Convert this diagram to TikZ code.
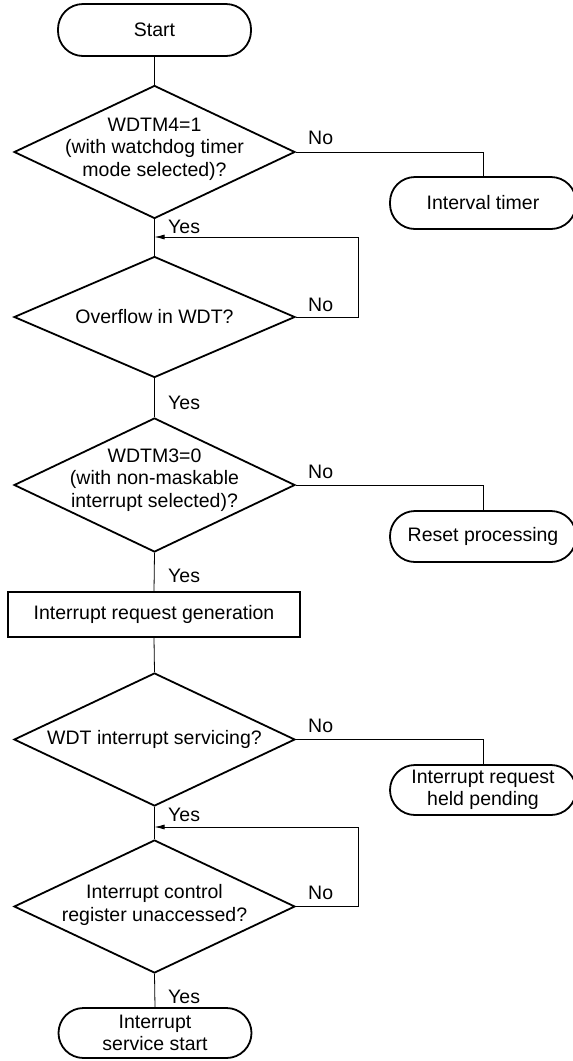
\documentclass[tikz,border=0pt]{standalone}
\usepackage{fontspec}
\setmainfont{Liberation Sans}
\usetikzlibrary{shapes.geometric,arrows.meta}
\begin{document}
\begin{tikzpicture}[x=1pt,y=-1pt,
  font=\fontsize{19.5}{22.5}\selectfont,
  shp/.style={draw=black,line width=1.8pt},
  term/.style={shp,rectangle,rounded corners=25pt,minimum width=193pt,minimum height=52pt,inner sep=0pt,align=center},
  dia/.style={shp,diamond,minimum width=281pt,minimum height=133pt,inner sep=0pt},
  procbox/.style={shp,rectangle,minimum width=292pt,minimum height=45pt,inner sep=0pt},
  txt/.style={align=center,inner sep=0pt},
  conn/.style={draw=black,line width=0.8pt},
  arr/.style={conn,-{Latex[length=10pt,width=5pt]}},
  lab/.style={anchor=west,inner sep=0pt},
]
\useasboundingbox (0,0) rectangle (573,1061);

% nodes
\node[term] (start) at (154.5,30) {Start};
\node[dia] (d1) at (154.5,152) {};
\node[txt] (d1t) at (154.5,149) {WDTM4=1\\(with watchdog timer\\mode selected)?};
\node[term,minimum width=186pt] (it) at (483,203) {Interval timer};

\node[dia,minimum height=121pt] (d2) at (154.5,317) {};
\node[txt] (d2t) at (154.5,317) {Overflow in WDT?};

\node[dia,minimum height=134pt] (d3) at (154.5,485) {};
\node[txt] (d3t) at (154.5,480) {WDTM3=0\\(with non-maskable\\interrupt selected)?};
\node[term,minimum width=186pt,minimum height=51pt] (rp) at (483,536.5) {Reset processing};

\node[procbox] (irg) at (154,614.5) {Interrupt request generation};

\node[dia] (d4) at (154.5,739.5) {};
\node[txt] (d4t) at (154.5,739.5) {WDT interrupt servicing?};
\node[term,minimum width=186pt,minimum height=50pt] (hp) at (483,790) {Interrupt request\\held pending};

\node[dia] (d5) at (154.5,906.5) {};
\node[txt] (d5t) at (154.5,905) {Interrupt control\\register unaccessed?};

\node[term,minimum height=50pt] (iss) at (155,1033) {Interrupt\\service start};

% junction coordinates
\coordinate (j1) at (154.5,237);
\coordinate (j2) at (154.5,827);
\coordinate (c1) at (358,237);
\coordinate (c2) at (358,827);

% connectors
\draw[conn] (start.south) -- (d1.north);
\draw[conn] (d1.south) -- (d2.north);
\draw[conn] (d2.south) -- (d3.north);
\draw[conn] (d3.south) -- (irg.north);
\draw[conn] (irg.south) -- (d4.north);
\draw[conn] (d4.south) -- (d5.north);
\draw[conn] (d5.south) -- (iss.north);

\draw[conn] (d1.east) -| (it.north);
\draw[conn] (d3.east) -| (rp.north);
\draw[conn] (d4.east) -| (hp.north);

\draw[arr] (d2.east) -| (c1) -- (j1);
\draw[arr] (d5.east) -| (c2) -- (j2);

% labels
\node[lab] (y1) at (168,227) {Yes};
\node[lab] (y2) at (168,403) {Yes};
\node[lab] (y3) at (168,576) {Yes};
\node[lab] (y4) at (168,815) {Yes};
\node[lab] (y5) at (168,997) {Yes};
\node[lab] (n1) at (308,138) {No};
\node[lab] (n2) at (308,305) {No};
\node[lab] (n3) at (308,472) {No};
\node[lab] (n4) at (308,726) {No};
\node[lab] (n5) at (308,893) {No};
\end{tikzpicture}
\end{document}
